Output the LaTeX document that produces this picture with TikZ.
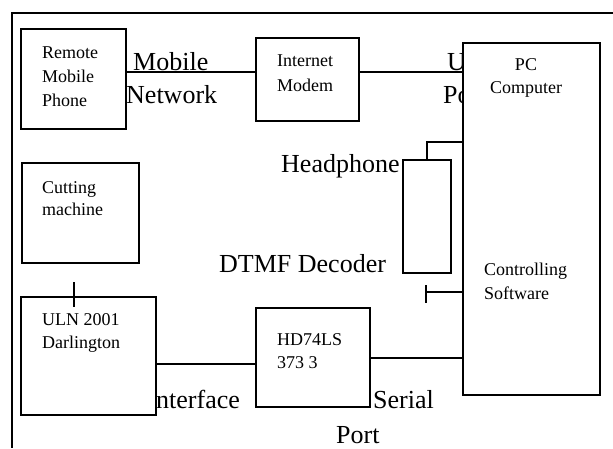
\documentclass[tikz,border=0pt]{standalone}
\usepackage{fontspec}
\setmainfont{Liberation Serif}
\begin{document}
\begin{tikzpicture}[x=1pt,y=-1pt,
  box/.style={draw, line width=1.5pt, fill=white, inner sep=0pt, anchor=center},
  wire/.style={line width=1.5pt},
  frame/.style={line width=2pt},
  sm/.style={anchor=base west, inner sep=0pt, font=\fontsize{18}{22}\selectfont},
  smc/.style={anchor=base, inner sep=0pt, font=\fontsize{18}{22}\selectfont},
  bg/.style={anchor=base west, inner sep=0pt, font=\fontsize{26}{32}\selectfont}]
\useasboundingbox (0,0) rectangle (613,448);
\fill[white] (0,0) rectangle (613,448);
% outer frame (only top and left edges visible)
\coordinate (f1) at (613,13);
\coordinate (f2) at (12,13);
\coordinate (f3) at (12,448);
\draw[frame] (f1) -- (f2) -- (f3);

% large labels (drawn first, partly covered by boxes)
\node[bg] (tmob) at (133,70) {Mobile};
\node[bg] (tnet) at (126,103) {Network};
\node[bg] (tu) at (447,70) {U};
\node[bg] (tpo) at (443,103) {Po};
\node[bg] (thead) at (281,172) {Headphone};
\node[bg] (tdtmf) at (219,272) {DTMF Decoder};
\node[bg] (tint) at (156,408) {nterface};
\node[bg] (tser) at (373,408) {Serial};
\node[bg] (tport) at (336,443) {Port};

% boxes
\node[box, minimum width=105pt, minimum height=100pt] (remote) at (73.5,79) {};
\node[box, minimum width=103pt, minimum height=83pt] (modem) at (307.5,79.5) {};
\node[box, minimum width=137pt, minimum height=352pt] (pc) at (531.5,219) {};
\node[box, minimum width=117pt, minimum height=100pt] (cut) at (80.5,213) {};
\node[box, minimum width=135pt, minimum height=118pt] (uln) at (88.5,356) {};
\node[box, minimum width=114pt, minimum height=99pt] (hd) at (313,357.5) {};
\node[box, minimum width=48pt, minimum height=113pt] (dtmf) at (427,216.5) {};

% small labels inside boxes
\node[sm] (r1) at (42,58) {Remote};
\node[sm] (r2) at (42,82) {Mobile};
\node[sm] (r3) at (42,106) {Phone};
\node[sm] (m1) at (277,66) {Internet};
\node[sm] (m2) at (277,91) {Modem};
\node[smc] (p1) at (526,70) {PC};
\node[smc] (p2) at (526,93) {Computer};
\node[sm] (c1) at (42,193) {Cutting};
\node[sm] (c2) at (42,215) {machine};
\node[sm] (s1) at (484,275) {Controlling};
\node[sm] (s2) at (484,299) {Software};
\node[sm] (u1) at (42,325) {ULN 2001};
\node[sm] (u2) at (42,348) {Darlington};
\node[sm] (h1) at (277,345) {HD74LS};
\node[sm] (h2) at (277,368) {373 3};

% connectors
\coordinate (ya) at (0,72);
\draw[wire] (remote.east |- ya) -- (modem.west |- ya);
\draw[wire] (modem.east |- ya) -- (pc.west |- ya);
\coordinate (yb) at (0,142);
\draw[wire] (dtmf.north) |- (pc.west |- yb);
\coordinate (t1) at (426,292);
\coordinate (t1a) at (426,285);
\coordinate (t1b) at (426,303);
\draw[wire] (pc.west |- t1) -- (t1);
\draw[wire] (t1a) -- (t1b);
\coordinate (ct1) at (74,282);
\coordinate (ct2) at (74,307);
\draw[wire] (ct1) -- (ct2);
\coordinate (yc) at (0,364);
\draw[wire] (uln.east |- yc) -- (hd.west |- yc);
\coordinate (yd) at (0,358);
\draw[wire] (hd.east |- yd) -- (pc.west |- yd);
\end{tikzpicture}
\end{document}
